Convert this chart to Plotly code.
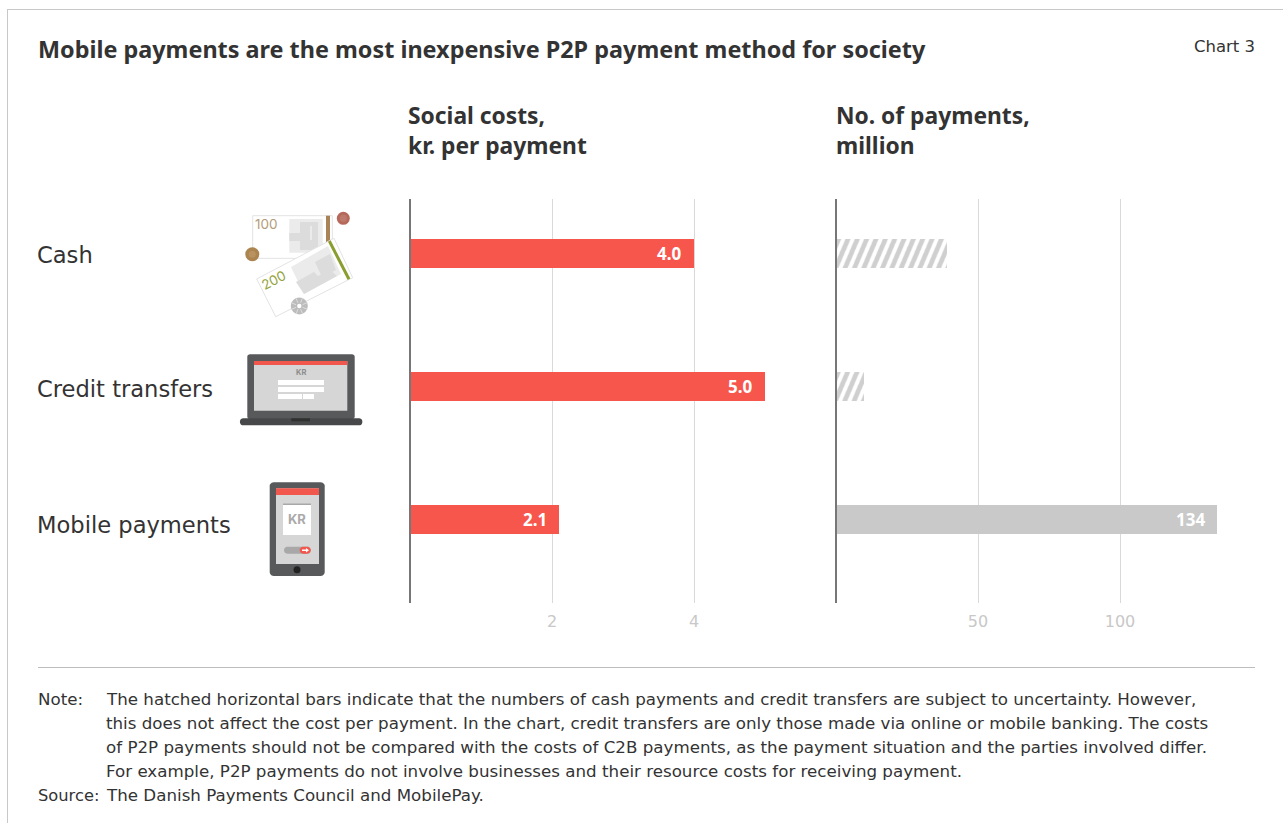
import math
import plotly.graph_objects as go

W, H = 1283, 823

# Chart data
methods = ["Cash", "Credit transfers", "Mobile payments"]
cost_per_payment = [4.0, 5.0, 2.1]
payments_million = [39, 10, 134]
payments_uncertain = [True, True, False]
cost_ticks = [2, 4]
payment_ticks = [50, 100]

title = "Mobile payments are the most inexpensive P2P payment method for society"
chart_no = "Chart 3"
left_head = ["Social costs,", "kr. per payment"]
right_head = ["No. of payments,", "million"]
note_lines = [
    "The hatched horizontal bars indicate that the numbers of cash payments and credit transfers are subject to uncertainty. However,",
    "this does not affect the cost per payment. In the chart, credit transfers are only those made via online or mobile banking. The costs",
    "of P2P payments should not be compared with the costs of C2B payments, as the payment situation and the parties involved differ.",
    "For example, P2P payments do not involve businesses and their resource costs for receiving payment.",
]
source_line = "The Danish Payments Council and MobilePay."

FONT = "Noto Sans"
BODY = "DejaVu Sans"
ICON = "Inter"
INK = "#333333"
RED = "#f7564d"
GREY_BAR = "#c9c9c9"
DARK = "#58595b"


def px(x):
    return x / W


def py(y):
    return 1 - y / H


def text(x, y, s, size, color=INK, bold=False, anchor="left", angle=0, font=BODY):
    label = f"<b>{s}</b>" if bold else s
    return dict(xref="paper", yref="paper", x=px(x), y=py(y), text=label, showarrow=False,
                xanchor=anchor, yanchor="middle", textangle=angle, borderpad=0, borderwidth=0,
                font=dict(family=font, size=size, color=color))


def rect(x0, y0, x1, y1, fill, line=None, width=1):
    return dict(type="rect", xref="paper", yref="paper", x0=px(x0), x1=px(x1), y0=py(y0), y1=py(y1),
                fillcolor=fill, line=dict(color=line or fill, width=width if line else 0), layer="above")


def poly(points, fill, line=None, width=1):
    d = "M" + "L".join(f"{px(a):.5f},{py(b):.5f}" for a, b in points) + "Z"
    return dict(type="path", xref="paper", yref="paper", path=d, fillcolor=fill,
                line=dict(color=line or fill, width=width if line else 0), layer="above")


def rounded(x0, y0, x1, y1, r, fill):
    pts = []
    for cx, cy, start in ((x1 - r, y0 + r, -90), (x1 - r, y1 - r, 0), (x0 + r, y1 - r, 90), (x0 + r, y0 + r, 180)):
        for k in range(7):
            a = math.radians(start + k * 15)
            pts.append((cx + r * math.cos(a), cy + r * math.sin(a)))
    return poly(pts, fill)


def circle(cx, cy, r, fill):
    return dict(type="circle", xref="paper", yref="paper", x0=px(cx - r), x1=px(cx + r),
                y0=py(cy - r), y1=py(cy + r), fillcolor=fill, line=dict(width=0), layer="above")


def line(x0, y0, x1, y1, color, width=1):
    return dict(type="line", xref="paper", yref="paper", x0=px(x0), x1=px(x1), y0=py(y0), y1=py(y1),
                line=dict(color=color, width=width), layer="above")


# Frame and rule above the notes
shapes = [
    line(7, 9.5, W, 9.5, "#c8c8c8"),
    line(7.5, 9, 7.5, H, "#c8c8c8"),
    line(38, 667.5, 1255, 667.5, "#bdbdbd"),
]

# Banknotes and coins
shapes += [
    rect(252.7, 215.7, 332.3, 258.3, "#ffffff", "#e3e3e3"),
    rect(289.3, 219, 322.7, 252.7, "#ebebeb"),
    poly([(300, 222), (318, 222), (318, 250), (300, 250), (300, 241), (289.3, 241), (289.3, 233), (300, 233)], "#dcdcdc"),
    rect(310, 226, 312, 240, "#ebebeb"),
    rect(326, 215.7, 330, 245, "#a98257"),
    circle(343.3, 218.3, 6.5, "#b5695a"),
    circle(343.3, 218.3, 3.5, "#bd7a6c"),
    circle(252.3, 254.3, 7, "#ab8450"),
    circle(252.3, 254.3, 3.5, "#b8925f"),
    poly([(256.7, 279), (334, 238.3), (352.7, 277.7), (275.7, 316.7)], "#ffffff", "#e3e3e3"),
    poly([(291, 267), (328, 246), (341, 274), (304, 294)], "#ebebeb"),
    poly([(296, 282), (314, 272), (318, 276), (330, 270), (337, 276), (304, 294)], "#dcdcdc"),
    poly([(315, 262), (330, 254), (336, 270), (322, 277)], "#dcdcdc"),
    line(329.3, 241, 349, 279.3, "#8a9e2f", 3),
    circle(299.3, 306, 8.5, "#bcbcbc"),
    circle(299.3, 306, 2.2, "#ffffff"),
]
# Grooves round the rim of the silver coin
for k in range(8):
    a = math.radians(k * 45 + 22)
    shapes.append(line(299.3 + 3.5 * math.cos(a), 306 + 3.5 * math.sin(a),
                       299.3 + 8.5 * math.cos(a), 306 + 8.5 * math.sin(a), "#dedede", 1))

# Laptop
shapes += [
    rounded(247.3, 354.3, 354.7, 419, 2.5, DARK),
    rect(254, 361, 347.3, 410.7, "#d6d6d6"),
    rect(254, 361, 347.3, 365, "#f2574e"),
    rect(278, 380, 324, 385, "#ffffff"),
    rect(278, 387, 324, 392, "#ffffff"),
    rect(278, 394, 302, 399, "#ffffff"),
    rect(303, 394, 314, 399, "#ffffff"),
    rounded(240, 418.3, 362.3, 425.3, 3, "#47484a"),
    rect(291.3, 418.3, 310, 421.3, "#303030"),
]

# Phone
shapes += [
    rounded(269.7, 482.3, 324.7, 576, 4, DARK),
    rect(276, 488.3, 319, 564, "#d6d6d6"),
    rect(276, 488.3, 319, 495, "#f2574e"),
    rect(283, 503.3, 311, 535, "#ffffff"),
    rect(283, 503.3, 311, 505, "#a8a8a8"),
    rounded(284, 546.7, 310.7, 553.7, 3.5, "#a8a8a8"),
    rounded(299.7, 546.7, 310.7, 553.7, 3.5, "#f2574e"),
    poly([(302, 549.5), (306, 549.5), (306, 548), (309, 550.2), (306, 552.4), (306, 551), (302, 551)], "#ffffff"),
    circle(297, 569.7, 3.5, "#222222"),
]

annotations = [
    text(38, 49, title, 23.4, INK, True, font=FONT),
    text(1255, 47, chart_no, 16.5, INK, anchor="right"),
    text(408, 115.5, left_head[0], 22.8, INK, True, font=FONT),
    text(408, 145.5, left_head[1], 22.8, INK, True, font=FONT),
    text(836, 115.5, right_head[0], 22.8, INK, True, font=FONT),
    text(836, 145.5, right_head[1], 22.8, INK, True, font=FONT),
    text(37, 255, methods[0], 22.6),
    text(37, 389, methods[1], 22.6),
    text(37, 525, methods[2], 22.6),
    text(255, 224.5, "100", 13.5, "#b59b7a", font=ICON),
    text(273.5, 280, "200", 13.5, "#93a33b", anchor="center", angle=-27, font=ICON),
    text(300.7, 372.7, "KR", 7.5, "#8c8c8c", True, anchor="center", font=ICON),
    text(297, 519, "KR", 13, "#aaaaaa", True, anchor="center", font=ICON),
    text(38, 699, "Note:", 16.7),
    text(38, 795, "Source:", 16.3),
    text(106, 795, source_line, 16.7),
]
for i, s in enumerate(note_lines):
    annotations.append(text(106, 699 + 24 * i, s, 16.7))

# Value labels sit just inside the end of each bar
for m, v in zip(methods, cost_per_payment):
    annotations.append(dict(xref="x", yref="y", x=v, y=m, text=f"<b>{v:.1f}</b>", showarrow=False,
                            xanchor="right", xshift=-12, borderpad=0, borderwidth=0,
                            font=dict(family=FONT, size=17, color="#ffffff")))
annotations.append(dict(xref="x2", yref="y2", x=payments_million[2], y=methods[2],
                        text=f"<b>{payments_million[2]}</b>", showarrow=False, xanchor="right", xshift=-12,
                        borderpad=0, borderwidth=0, font=dict(family=FONT, size=17, color="#ffffff")))

fig = go.Figure()
fig.add_bar(x=cost_per_payment, y=methods, orientation="h", width=0.218,
            marker=dict(color=RED, line=dict(width=0)), xaxis="x", yaxis="y", showlegend=False)
fig.add_bar(x=payments_million, y=methods, orientation="h", width=0.218,
            marker=dict(color=GREY_BAR, line=dict(width=0),
                        pattern=dict(shape=["/" if u else "" for u in payments_uncertain],
                                     bgcolor="#ffffff", fgcolor="#cfcfcf", size=8.6, solidity=0.55,
                                     fillmode="replace")),
            xaxis="x2", yaxis="y2", showlegend=False)

y_common = dict(type="category", categoryorder="array", categoryarray=methods,
                range=[2.627, -0.41], domain=[py(603), py(199)], showgrid=False, zeroline=False,
                showline=True, linecolor="#777777", linewidth=1.5, showticklabels=False, ticks="")
x_common = dict(showgrid=True, gridcolor="#d9d9d9", gridwidth=1, zeroline=False, showline=False,
                ticks="", tickfont=dict(family=BODY, size=16, color="#c8c8c8"), ticklabelstandoff=7)

fig.update_layout(
    width=W, height=H, margin=dict(l=0, r=0, t=0, b=0), autosize=False,
    paper_bgcolor="#ffffff", plot_bgcolor="rgba(0,0,0,0)", bargap=0, showlegend=False,
    font=dict(family=BODY, color=INK),
    xaxis=dict(domain=[px(411), px(790)], range=[1 / 71, 380 / 71], anchor="y",
               tickvals=cost_ticks, ticktext=[str(t) for t in cost_ticks], **x_common),
    xaxis2=dict(domain=[px(837), px(1240)], range=[1 / 2.84, 404 / 2.84], anchor="y2",
                tickvals=payment_ticks, ticktext=[str(t) for t in payment_ticks], **x_common),
    yaxis=dict(anchor="x", **y_common),
    yaxis2=dict(anchor="x2", **y_common),
    shapes=shapes, annotations=annotations,
)

# Steepen the hatch lines on the uncertain bars
steepen = """
document.querySelectorAll('pattern').forEach(function (p) {
  p.setAttribute('patternTransform', 'rotate(-22)');
});
"""
fig.write_html("out.html", post_script=steepen)
